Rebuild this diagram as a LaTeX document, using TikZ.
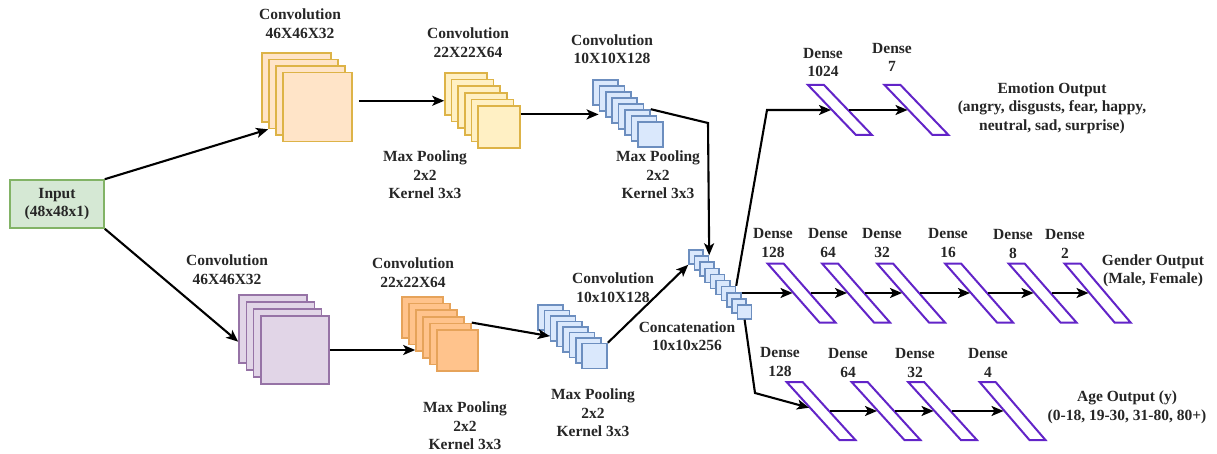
\documentclass[tikz,border=0pt]{standalone}
\usepackage{fontspec}
\setmainfont{Liberation Serif}
\usetikzlibrary{arrows.meta,positioning}
\definecolor{peachfill}{HTML}{FFE4C8}
\definecolor{yellowfill}{HTML}{FFF0C4}
\definecolor{golddraw}{HTML}{DDB347}
\definecolor{bluefill}{HTML}{DAE8FC}
\definecolor{bluedraw}{HTML}{6C8EBF}
\definecolor{lilacfill}{HTML}{E1D5E7}
\definecolor{lilacdraw}{HTML}{9673A6}
\definecolor{orangefill}{HTML}{FFC38C}
\definecolor{orangedraw}{HTML}{E6A35A}
\definecolor{inputfill}{HTML}{D5E8D4}
\definecolor{inputdraw}{HTML}{82B366}
\definecolor{densedraw}{HTML}{6224C8}

\begin{document}
\begin{tikzpicture}[
  x=1pt, y=-1pt,
  >={Stealth[length=12pt,width=10pt,inset=3pt]},
  every node/.style={font=\fontsize{15.5}{18.5}\selectfont\bfseries, text=black!85},
  lbl/.style={align=center, inner sep=0pt},
  fmap/.style={draw, inner sep=0pt, line width=1.6pt, minimum size=#1},
  peachmap/.style={fmap=#1, fill=peachfill, draw=golddraw},
  yellowmap/.style={fmap=#1, fill=yellowfill, draw=golddraw},
  bluemap/.style={fmap=#1, fill=bluefill, draw=bluedraw},
  lilacmap/.style={fmap=#1, fill=lilacfill, draw=lilacdraw},
  orangemap/.style={fmap=#1, fill=orangefill, draw=orangedraw},
  inbox/.style={draw=inputdraw, fill=inputfill, line width=1.6pt, align=center,
    inner sep=0pt, minimum width=94pt, minimum height=48pt},
  dense/.style 2 args={draw=densedraw, fill=white, line width=2pt, inner sep=0pt,
    minimum width=16pt, minimum height=#1, xslant=#2, transform shape},
  link/.style={->, line width=2.1pt}
]
  \useasboundingbox (0,0) rectangle (1217,454);

  % input
  \node[inbox] (in) at (57,204) {Input\\(48x48x1)};

  % upper branch
  \foreach \i in {0,...,3}
    \node[peachmap=69pt] (c1a-\i) at (296.5+7*\i,87.5+6.5*\i) {};
  \foreach \i in {0,...,5}
    \node[yellowmap=42pt] (c2a-\i) at (466+6.6*\i,94+6.6*\i) {};
  \foreach \i in {0,...,7}
    \node[bluemap=25pt] (c3a-\i) at (605.5+6.4*\i,92.5+6*\i) {};

  \node[lbl] (lc1a) at (300,23.5) {Convolution\\46X46X32};
  \node[lbl] (lc2a) at (468,42.5) {Convolution\\22X22X64};
  \node[lbl] (lc3a) at (612,49) {Convolution\\10X10X128};
  \node[lbl] (lp2a) at (425,175) {Max Pooling\\2x2\\Kernel 3x3};
  \node[lbl] (lp3a) at (658,175) {Max Pooling\\2x2\\Kernel 3x3};

  % lower branch
  \foreach \i in {0,...,3}
    \node[lilacmap=68pt] (c1b-\i) at (273+7.3*\i,329+7*\i) {};
  \foreach \i in {0,...,5}
    \node[orangemap=41pt] (c2b-\i) at (422.5+7*\i,317.5+6.6*\i) {};
  \foreach \i in {0,...,7}
    \node[bluemap=25pt] (c3b-\i) at (550.5+6.3*\i,317.5+5.5*\i) {};

  \node[lbl] (lc1b) at (227,269.5) {Convolution\\46X46X32};
  \node[lbl] (lc2b) at (413,272.5) {Convolution\\22x22X64};
  \node[lbl] (lc3b) at (613,287.5) {Convolution\\10x10X128};
  \node[lbl] (lp2b) at (465,426) {Max Pooling\\2x2\\Kernel 3x3};
  \node[lbl] (lp3b) at (593,413) {Max Pooling\\2x2\\Kernel 3x3};

  % concatenation
  \foreach \i in {0,...,9}
    \node[bluemap=14pt] (cc-\i) at (696+5.4*\i,257+6.1*\i) {};
  \node[lbl] (lcc) at (687,336) {Concatenation\\10x10x256};

  % emotion head
  \node[dense={50pt}{-0.96}] (e1) at (840,110) {};
  \node[dense={50pt}{-0.96}] (e2) at (916.5,110) {};
  \node[lbl] (le1) at (823,62.5) {Dense\\1024};
  \node[lbl] (le2) at (892,57.5) {Dense\\7};
  \node[lbl] (lemo) at (1052,108) {Emotion Output\\(angry, disgusts, fear, happy,\\neutral, sad, surprise)};

  % gender head
  \node[dense={59pt}{-0.88}] (g1) at (801.5,293) {};
  \node[dense={59pt}{-0.88}] (g2) at (856,293) {};
  \node[dense={59pt}{-0.88}] (g3) at (911,293) {};
  \node[dense={59pt}{-0.88}] (g4) at (979,293) {};
  \node[dense={59pt}{-0.88}] (g5) at (1042.5,293) {};
  \node[dense={59pt}{-0.85}] (g6) at (1097.5,293) {};
  \node[lbl] (lg1) at (773,243) {Dense\\128};
  \node[lbl] (lg2) at (828,243) {Dense\\64};
  \node[lbl] (lg3) at (882,243) {Dense\\32};
  \node[lbl] (lg4) at (948,243) {Dense\\16};
  \node[lbl] (lg5) at (1013,244) {Dense\\8};
  \node[lbl] (lg6) at (1065,244) {Dense\\2};
  \node[lbl] (lgen) at (1153,271) {Gender Output\\(Male, Female)};

  % age head
  \node[dense={58pt}{-0.91}] (a1) at (821,411) {};
  \node[dense={58pt}{-0.91}] (a2) at (886,411) {};
  \node[dense={58pt}{-0.91}] (a3) at (942.5,411) {};
  \node[dense={58pt}{-0.86}] (a4) at (1012.5,411) {};
  \node[lbl] (la1) at (780,362) {Dense\\128};
  \node[lbl] (la2) at (848,363) {Dense\\64};
  \node[lbl] (la3) at (915,363) {Dense\\32};
  \node[lbl] (la4) at (988,363) {Dense\\4};
  \node[lbl] (lage) at (1127,407.5) {Age Output (y)\\(0-18, 19-30, 31-80, 80+)};

  \coordinate (poolturn) at (708,123);
  \coordinate (emoturn) at (767,110);
  \coordinate (ageturn) at (755,393);

  \draw[link] (in.north east) -- (c1a-1.south west);
  \draw[link, shorten <=6pt] (c1a-3.10) -- (c1a-3.10 -| c2a-0.west);
  \draw[link] (c2a-5.30) -- (c2a-5.30 -| c3a-1.west);
  \draw[link] (c3a-5.north east) -- (poolturn) -- (cc-1.north east);

  \draw[link] (in.south east) -- (c1b-0.200);
  \draw[link] (c1b-3.east) -- (c1b-3.east -| c2b-2.west);
  \draw[link] (c2b-4.north east) -- (c3b-2.210);
  \draw[link] (c3b-7.north east) -- (cc-0.south west);

  \draw[link] (cc-6.north east) -- (emoturn) -- (e1);
  \draw[link] (g1 -| cc-7.east) -- (g1);
  \draw[link] (cc-9.south) -- (ageturn) -- (a1);

  \draw[link] (e1) -- (e2);
  \draw[link] (g1) -- (g2);
  \draw[link] (g2) -- (g3);
  \draw[link] (g3) -- (g4);
  \draw[link] (g4) -- (g5);
  \draw[link] (g5) -- (g6);
  \draw[link] (a1) -- (a2);
  \draw[link] (a2) -- (a3);
  \draw[link] (a3) -- (a4);
\end{tikzpicture}
\end{document}
